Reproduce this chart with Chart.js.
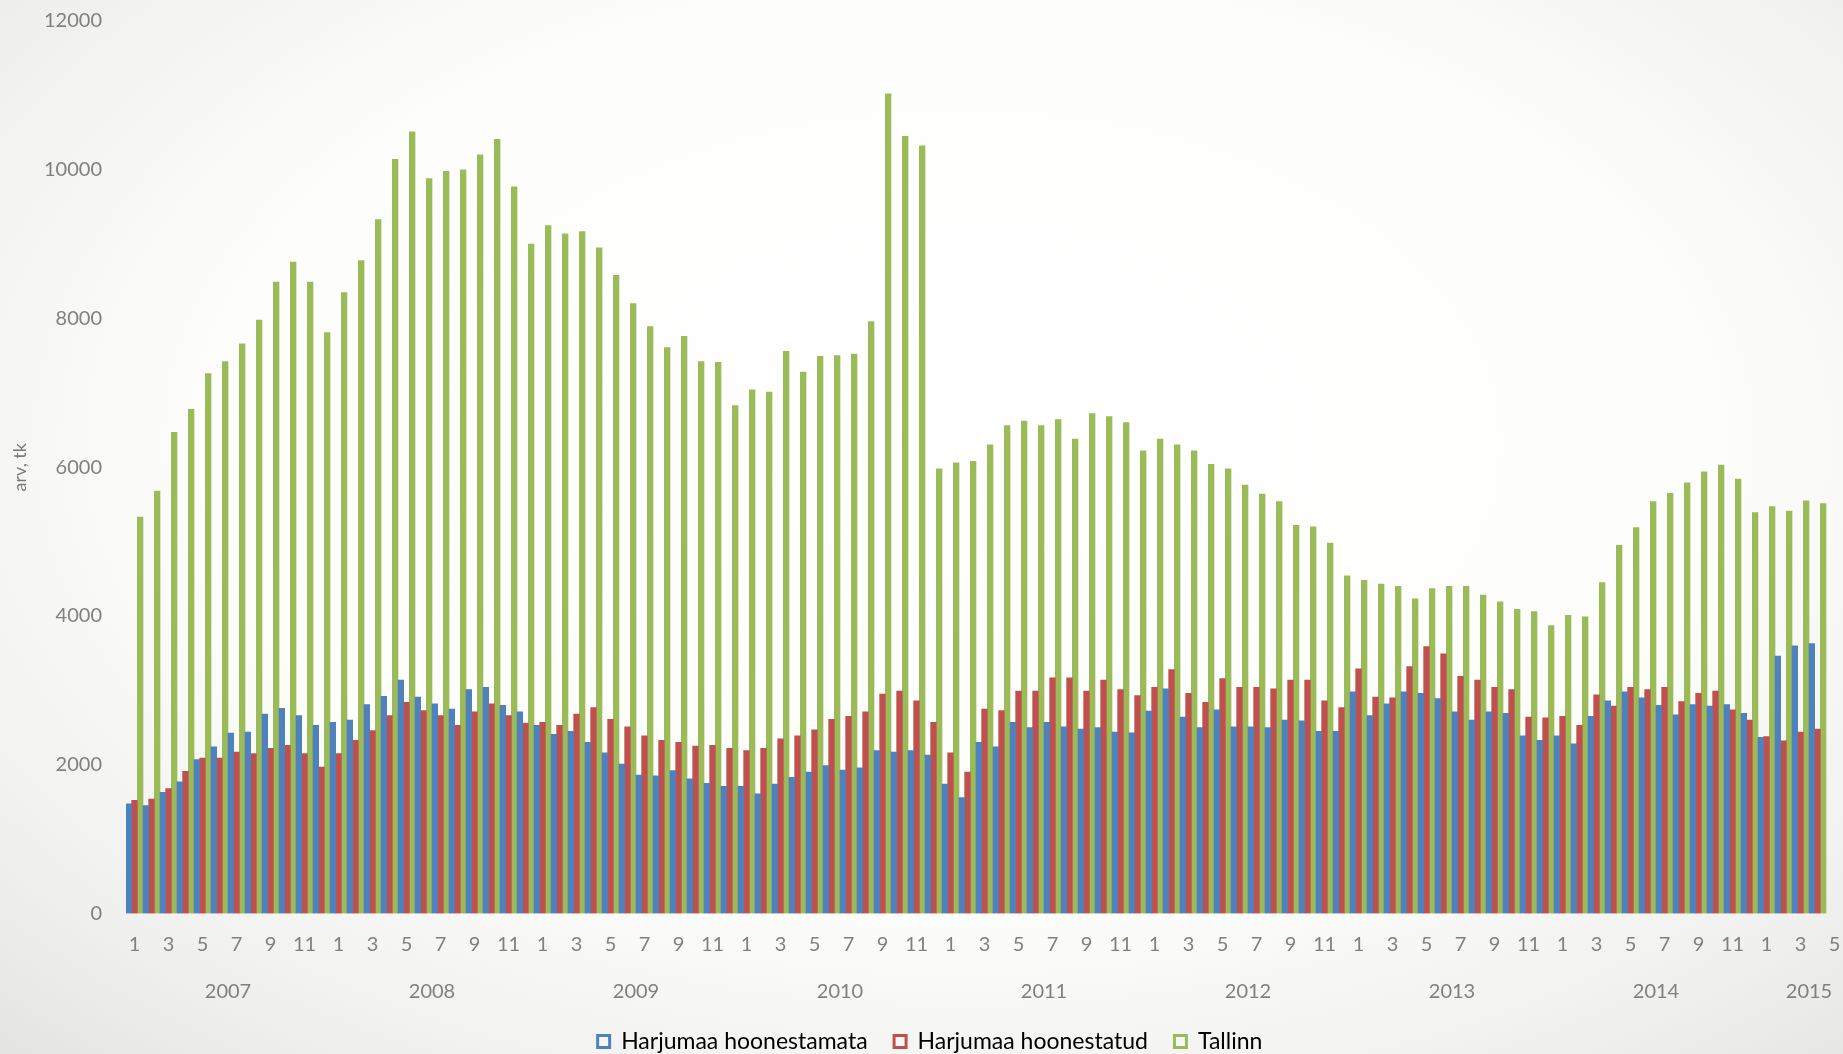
<!DOCTYPE html>
<html>
<head>
<meta charset="utf-8">
<script src="https://cdn.jsdelivr.net/npm/chart.js@4/dist/chart.umd.min.js"></script>
<style>
  html, body { margin: 0; padding: 0; overflow: hidden; }
  body {
    width: 1843px; height: 1054px;
    background: radial-gradient(ellipse 75% 80% at 52% 42%, #ffffff 0%, #fdfdfc 55%, #efefed 85%, #e4e4e2 100%);
  }
  #wrap { position: absolute; left: 0; top: 0; width: 1860px; height: 1063px; }
</style>
</head>
<body>
<div id="wrap"><canvas id="c"></canvas></div>
<script>
// ---- data ----
const years = ['2007', '2008', '2009', '2010', '2011', '2012', '2013', '2014', '2015'];
const monthsInYear = [12, 12, 12, 12, 12, 12, 12, 12, 6];

const seriesNames = ['Harjumaa hoonestamata', 'Harjumaa hoonestatud', 'Tallinn'];

const harjumaaHoonestamata = [
  1475, 1450, 1630, 1770, 2070, 2240, 2425, 2440, 2680, 2760, 2660, 2530,
  2570, 2600, 2810, 2920, 3140, 2910, 2820, 2750, 3010, 3040, 2800, 2710,
  2530, 2410, 2450, 2300, 2160, 2010, 1860, 1850, 1920, 1810, 1750, 1710,
  1710, 1610, 1740, 1830, 1900, 1990, 1930, 1960, 2190, 2170, 2190, 2130,
  1740, 1560, 2300, 2240, 2570, 2500, 2570, 2510, 2480, 2500, 2440, 2430,
  2720, 3020, 2640, 2500, 2740, 2510, 2510, 2500, 2600, 2590, 2450, 2450,
  2980, 2660, 2820, 2980, 2960, 2890, 2710, 2600, 2710, 2690, 2390, 2330,
  2390, 2280, 2650, 2860, 2980, 2900, 2800, 2670, 2810, 2790, 2810, 2690,
  2370, 3460, 3600, 3630, null, null
];

const harjumaaHoonestatud = [
  1520, 1540, 1680, 1910, 2090, 2090, 2170, 2150, 2220, 2260, 2150, 1970,
  2150, 2330, 2460, 2660, 2840, 2730, 2660, 2530, 2710, 2820, 2660, 2560,
  2570, 2530, 2680, 2770, 2610, 2510, 2390, 2330, 2300, 2250, 2260, 2220,
  2190, 2220, 2350, 2390, 2470, 2610, 2650, 2710, 2950, 2990, 2860, 2570,
  2160, 1900, 2750, 2730, 2990, 2990, 3170, 3170, 2990, 3140, 3010, 2930,
  3040, 3280, 2960, 2840, 3160, 3040, 3040, 3020, 3140, 3140, 2860, 2770,
  3290, 2910, 2900, 3320, 3590, 3490, 3190, 3140, 3040, 3010, 2640, 2630,
  2650, 2530, 2940, 2790, 3040, 3010, 3040, 2850, 2960, 2990, 2740, 2600,
  2380, 2320, 2440, 2480, null, null
];

const tallinn = [
  5330, 5680, 6470, 6780, 7260, 7420, 7660, 7980, 8490, 8760, 8490, 7810,
  8350, 8780, 9330, 10140, 10510, 9880, 9980, 10000, 10200, 10410, 9770, 9000,
  9250, 9140, 9170, 8950, 8580, 8200, 7890, 7610, 7760, 7420, 7410, 6830,
  7040, 7010, 7560, 7280, 7490, 7500, 7520, 7960, 11020, 10450, 10320, 5980,
  6060, 6080, 6300, 6560, 6620, 6560, 6640, 6380, 6720, 6680, 6600, 6220,
  6380, 6300, 6220, 6040, 5980, 5760, 5640, 5540, 5220, 5200, 4980, 4540,
  4480, 4430, 4400, 4230, 4370, 4400, 4400, 4280, 4190, 4090, 4060, 3870,
  4010, 3990, 4450, 4950, 5190, 5540, 5650, 5790, 5940, 6030, 5840, 5390,
  5470, 5410, 5550, 5510, null, null
];

const yTicks = [0, 2000, 4000, 6000, 8000, 10000, 12000];

// ---- derived category labels ----
const monthLabels = [];
const yearTickLabels = [];
years.forEach((y, k) => {
  const n = monthsInYear[k];
  for (let m = 1; m <= n; m++) {
    monthLabels.push(String(m));
    yearTickLabels.push(m === n / 2 ? y : '');
  }
});

const FONT = 'Lato, "Open Sans", "DejaVu Sans", sans-serif';
const GREY = '#808080';
const colors = ['#4F81BD', '#C0504D', '#9BBB59'];

const mk = (i, data) => ({
  label: seriesNames[i],
  data: data,
  backgroundColor: colors[i],
  borderWidth: 0,
  categoryPercentage: 1.0,
  barPercentage: 1.0
});

new Chart(document.getElementById('c'), {
  type: 'bar',
  data: {
    labels: monthLabels,
    datasets: [mk(0, harjumaaHoonestamata), mk(1, harjumaaHoonestatud), mk(2, tallinn)]
  },
  options: {
    responsive: true,
    maintainAspectRatio: false,
    animation: false,
    layout: { padding: { top: 21, right: 0, bottom: 0, left: 0 } },
    plugins: {
      tooltip: { enabled: false },
      legend: {
        position: 'bottom',
        labels: {
          font: { family: FONT, size: 23 },
          color: '#6e6e6e',
          boxWidth: 12,
          boxHeight: 12,
          padding: 26.5,
          generateLabels: (chart) => chart.data.datasets.map((ds, i) => ({
            text: ds.label,
            fillStyle: '#f6f6f6',
            strokeStyle: ds.backgroundColor,
            lineWidth: 3,
            hidden: false,
            datasetIndex: i
          }))
        }
      }
    },
    scales: {
      x: {
        type: 'category',
        position: 'bottom',
        weight: 0,
        grid: { display: false, drawTicks: false },
        border: { display: false },
        ticks: {
          autoSkip: false,
          maxRotation: 0,
          minRotation: 0,
          padding: 19,
          color: GREY,
          font: { family: FONT, size: 20 },
          callback: function (value) {
            const lab = this.getLabelForValue(value);
            return (Number(lab) % 2 === 1) ? lab : '';
          }
        },
        afterFit: (s) => { s.height = 43; s.paddingLeft = 0; s.paddingRight = 0; s.paddingTop = 0; s.paddingBottom = 0; }
      },
      x2: {
        type: 'category',
        labels: yearTickLabels,
        position: 'bottom',
        weight: 1,
        grid: { display: false, drawTicks: false },
        border: { display: false },
        ticks: {
          autoSkip: false,
          maxRotation: 0,
          minRotation: 0,
          padding: 23,
          labelOffset: 8.5,
          color: GREY,
          font: { family: FONT, size: 20 }
        },
        afterFit: (s) => { s.height = 47; s.paddingLeft = 0; s.paddingRight = 0; s.paddingTop = 0; s.paddingBottom = 0; }
      },
      y: {
        min: 0,
        max: 12000,
        grid: { display: false, drawTicks: false },
        border: { display: false },
        afterBuildTicks: (s) => { s.ticks = yTicks.map(v => ({ value: v })); },
        ticks: {
          padding: 24,
          color: GREY,
          font: { family: FONT, size: 20 },
          callback: (v) => String(v)
        },
        title: {
          display: true,
          text: 'arv, tk',
          color: '#7a7a7a',
          font: { family: FONT, size: 18 },
          padding: { top: 9, bottom: 0 }
        },
        afterFit: (s) => { s.width = 126; s.paddingTop = 0; s.paddingBottom = 0; }
      }
    }
  }
});
</script>
</body>
</html>
